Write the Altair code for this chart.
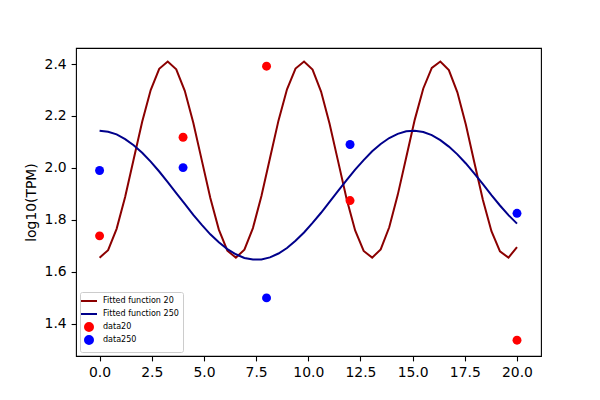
import altair as alt
import pandas as pd

# sample grid of the fitted curves
fit_x = [0.0, 0.408, 0.816, 1.224, 1.633, 2.041, 2.449, 2.857, 3.265, 3.673,
         4.082, 4.490, 4.898, 5.306, 5.714, 6.122, 6.531, 6.939, 7.347, 7.755,
         8.163, 8.571, 8.980, 9.388, 9.796, 10.204, 10.612, 11.020, 11.429, 11.837,
         12.245, 12.653, 13.061, 13.469, 13.878, 14.286, 14.694, 15.102, 15.510, 15.918,
         16.327, 16.735, 17.143, 17.551, 17.959, 18.367, 18.776, 19.184, 19.592, 20.0]

fit20 = [1.654, 1.683, 1.765, 1.888, 2.033, 2.178, 2.300, 2.382, 2.410, 2.380,
         2.297, 2.174, 2.029, 1.884, 1.762, 1.681, 1.654, 1.685, 1.768, 1.892,
         2.037, 2.182, 2.303, 2.383, 2.410, 2.379, 2.294, 2.170, 2.025, 1.880,
         1.759, 1.680, 1.654, 1.686, 1.771, 1.896, 2.041, 2.186, 2.306, 2.385,
         2.410, 2.377, 2.291, 2.166, 2.020, 1.876, 1.756, 1.678, 1.654, 1.695]

fit250 = [2.143, 2.139, 2.129, 2.111, 2.087, 2.058, 2.024, 1.986, 1.945, 1.903,
          1.861, 1.819, 1.780, 1.744, 1.713, 1.687, 1.667, 1.653, 1.647, 1.647,
          1.655, 1.670, 1.691, 1.719, 1.751, 1.788, 1.827, 1.869, 1.911, 1.953,
          1.993, 2.030, 2.064, 2.092, 2.115, 2.131, 2.141, 2.143, 2.138, 2.126,
          2.107, 2.082, 2.052, 2.017, 1.978, 1.937, 1.895, 1.855, 1.818, 1.785]

data_x = [0, 4, 8, 12, 20]
data20 = [1.738, 2.118, 2.392, 1.874, 1.336]
data250 = [1.990, 2.001, 1.499, 2.090, 1.825]

labels = ["Fitted function 20", "Fitted function 250", "data20", "data250"]
colors = ["#8b0000", "#00008b", "#ff0000", "#0000ff"]
shapes = ["M-2,0H2", "M-2,0H2", "circle", "circle"]

x_ticks = [0, 2.5, 5, 7.5, 10, 12.5, 15, 17.5, 20]
y_ticks = [1.4, 1.6, 1.8, 2.0, 2.2, 2.4]

lines_df = pd.DataFrame({
    "x": fit_x + fit_x,
    "y": fit20 + fit250,
    "series": [labels[0]] * len(fit_x) + [labels[1]] * len(fit_x),
    "order": list(range(len(fit_x))) + list(range(len(fit_x))),
})
points_df = pd.DataFrame({
    "x": data_x + data_x,
    "y": data20 + data250,
    "series": [labels[2]] * len(data_x) + [labels[3]] * len(data_x),
})

FONT = "DejaVu Sans"

xs = alt.Scale(domain=[-1.13, 21.15], nice=False, zero=False)
ys = alt.Scale(domain=[1.275, 2.462], nice=False, zero=False)
cs = alt.Scale(domain=labels, range=colors)
ss = alt.Scale(domain=labels, range=shapes)

xax = alt.Axis(values=x_ticks, format=".1f", title=None)
yax = alt.Axis(values=y_ticks, format=".1f", title="log10(TPM)")

lines = alt.Chart(lines_df).mark_line(strokeWidth=2.0).encode(
    x=alt.X("x:Q", scale=xs, axis=xax),
    y=alt.Y("y:Q", scale=ys, axis=yax),
    color=alt.Color("series:N", scale=cs, title=None),
    order="order:Q",
)

points = alt.Chart(points_df).mark_point(filled=True, size=80, opacity=1).encode(
    x=alt.X("x:Q", scale=xs, axis=xax),
    y=alt.Y("y:Q", scale=ys, axis=yax),
    color=alt.Color("series:N", scale=cs, title=None),
    shape=alt.Shape("series:N", scale=ss, title=None),
)

chart = alt.layer(lines, points).properties(
    width=465,
    height=308,
    autosize=alt.AutoSizeParams(type="none"),
    padding={"left": 68, "top": 40, "right": 40, "bottom": 30},
).configure_view(
    stroke="black", strokeWidth=1.1
).configure_axis(
    domain=False, grid=False,
    tickColor="black", tickSize=4.9, tickWidth=1.1,
    labelFont=FONT, labelFontSize=13.9, labelColor="black", labelPadding=4.9,
    titleFont=FONT, titleFontSize=13.9, titleColor="black", titleFontWeight="normal",
    titlePadding=5.6,
).configure_legend(
    orient="bottom-left", offset=4, padding=4,
    strokeColor="#cccccc", fillColor="rgba(255,255,255,0.8)", cornerRadius=2,
    labelFont=FONT, labelFontSize=8.04, labelColor="black", labelOffset=9,
    symbolSize=64, symbolStrokeWidth=2.0, rowPadding=-3, symbolOpacity=1,
    gridAlign="all",
)

chart.save("out.html", embed_options={"renderer": "svg", "actions": False})
